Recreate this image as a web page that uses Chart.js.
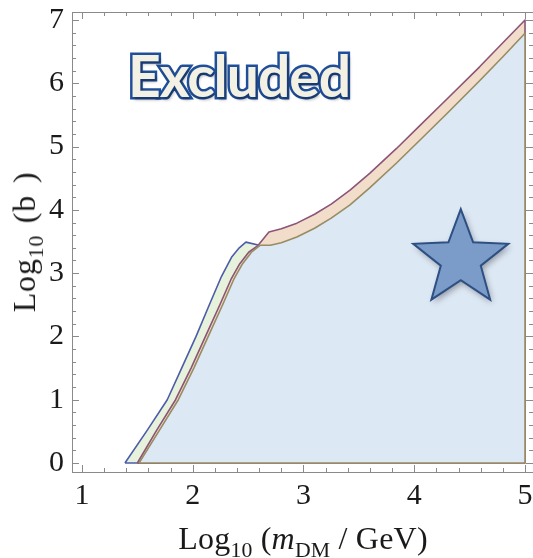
<!DOCTYPE html>
<html>
<head>
<meta charset="utf-8">
<script src="https://cdn.jsdelivr.net/npm/chart.js@4"></script>
<style>
  html, body { margin: 0; padding: 0; background: #fff; }
  #wrap { position: relative; width: 533px; height: 558px; overflow: hidden; }
  #chart { position: absolute; left: 0; top: 0; }

  /* axis titles (HTML so the subscripts are real text) */
  .axis-title {
    position: absolute;
    font-family: "Liberation Serif", "DejaVu Serif", serif;
    font-size: 32px;
    letter-spacing: 0.8px;
    color: #1a1a1a;
    white-space: nowrap;
    line-height: 1;
  }
  .axis-title sub { font-size: 0.68em; vertical-align: -0.35em; line-height: 0; }
  #xtitle { left: 303px; top: 538px; transform: translate(-50%, -50%); letter-spacing: 0.2px; }
  #ytitle { left: 24px; top: 242px; transform: translate(-50%, -50%) rotate(-90deg); word-spacing: 3px; }

  /* "Excluded" word-art label */
  #excluded {
    position: absolute;
    left: 239px; top: 75px;
    transform: translate(-50%, -50%);
    font-family: Lato, "Open Sans", sans-serif;
    font-weight: bold;
    font-size: 57px;
    letter-spacing: -1px;
    line-height: 1;
    color: #f3f0e4;
    -webkit-text-stroke: 5px #1f4f9a;
    paint-order: stroke fill;
    text-shadow: 2px 3px 3px rgba(0, 0, 0, 0.3);
    white-space: nowrap;
  }
</style>
</head>
<body>
<div id="wrap">
  <canvas id="chart" width="533" height="558"></canvas>
  <div id="excluded">Excluded</div>
  <div class="axis-title" id="xtitle">Log<sub>10</sub> (<i>m</i><sub>DM</sub> / GeV)</div>
  <div class="axis-title" id="ytitle">Log<sub>10</sub> (b )</div>
</div>

<script>
/* ── axis ranges & ticks ───────────────────────────────── */
const X_MIN = 0.91, X_MAX = 5.072;
const Y_MIN = -0.142, Y_MAX = 7.126;
const X_TICKS = [1, 2, 3, 4, 5];
const Y_TICKS = [0, 1, 2, 3, 4, 5, 6, 7];
const MINOR_STEP = 0.2;

/* ── regions (log10 mDM, log10 b) ──────────────────────── */
// light-blue allowed region, olive border
const BLUE_X = [1.515, 1.70, 1.87, 2.01, 2.14, 2.27, 2.37, 2.45, 2.53, 2.607, 2.70, 2.80, 2.94, 3.10, 3.25, 3.42, 3.60, 3.84, 4.05, 4.30, 4.59, 4.80, 5.0, 5.0, 1.515];
const BLUE_Y = [0, 0.52, 1.0, 1.5, 2.0, 2.5, 2.9, 3.15, 3.33, 3.44, 3.44, 3.48, 3.57, 3.71, 3.87, 4.08, 4.35, 4.74, 5.10, 5.53, 6.04, 6.42, 6.79, 0, 0];

// pink band on top of it, purple border
const PINK_X = [1.50, 1.675, 1.845, 1.985, 2.115, 2.245, 2.345, 2.425, 2.505, 2.585, 2.688, 2.80, 2.94, 3.10, 3.25, 3.42, 3.60, 3.84, 4.05, 4.30, 4.59, 4.80, 5.0, 5.0, 1.50];
const PINK_Y = [0, 0.52, 1.0, 1.5, 2.0, 2.5, 2.9, 3.15, 3.33, 3.43, 3.65, 3.70, 3.79, 3.93, 4.09, 4.31, 4.58, 4.97, 5.33, 5.76, 6.26, 6.64, 7.0, 0, 0];

// green sliver on the low-mass side, blue border
const GREEN_X = [1.388, 1.59, 1.77, 1.90, 2.03, 2.15, 2.26, 2.35, 2.42, 2.48, 2.60, 2.70, 1.70, 1.388];
const GREEN_Y = [0, 0.52, 1.0, 1.5, 2.0, 2.5, 2.95, 3.25, 3.40, 3.49, 3.44, 3.0, 0, 0];

// benchmark point
const STAR_X = [4.42];
const STAR_Y = [3.22];

/* ── colours ───────────────────────────────────────────── */
const BLUE_FILL   = '#dde8f5';
const BLUE_LINE   = '#978c62';
const PINK_FILL   = '#f1ddca';
const PINK_LINE   = '#8c5478';
const GREEN_FILL  = '#e7f2dc';
const GREEN_LINE  = '#4c5ca8';
const FRAME_COLOR = '#8a8a8a';
const TICK_FONT   = { family: '"Liberation Serif", "DejaVu Serif", serif', size: 30 };

const pts = (xs, ys) => xs.map((x, i) => ({ x, y: ys[i] }));

function region(xs, ys, fill, line, order) {
  return {
    data: pts(xs, ys),
    showLine: true,
    fill: 'shape',
    backgroundColor: fill,
    borderColor: line,
    borderWidth: 1.6,
    borderJoinStyle: 'round',
    pointRadius: 0,
    tension: 0,
    order: order,
  };
}

/* frame with inward ticks on every side */
const frameTicks = {
  id: 'frameTicks',
  afterDatasetsDraw(chart) {
    const { ctx, chartArea: a, scales: { x, y } } = chart;
    ctx.save();
    ctx.strokeStyle = FRAME_COLOR;
    ctx.lineWidth = 1;
    ctx.strokeRect(a.left + 0.5, a.top + 0.5, a.right - a.left, a.bottom - a.top);

    ctx.beginPath();
    for (let v = Math.ceil(X_MIN / MINOR_STEP) * MINOR_STEP; v <= X_MAX; v += MINOR_STEP) {
      const major = Math.abs(v - Math.round(v)) < 1e-6;
      const len = major ? 7 : 4;
      const px = Math.round(x.getPixelForValue(v)) + 0.5;
      ctx.moveTo(px, a.bottom); ctx.lineTo(px, a.bottom - len);
      ctx.moveTo(px, a.top);    ctx.lineTo(px, a.top + len);
    }
    for (let v = Math.ceil(Y_MIN / MINOR_STEP) * MINOR_STEP; v <= Y_MAX; v += MINOR_STEP) {
      const major = Math.abs(v - Math.round(v)) < 1e-6;
      const len = major ? 7 : 4;
      const py = Math.round(y.getPixelForValue(v)) + 0.5;
      ctx.moveTo(a.left, py);  ctx.lineTo(a.left + len, py);
      ctx.moveTo(a.right, py); ctx.lineTo(a.right - len, py);
    }
    ctx.stroke();
    ctx.restore();
  }
};

/* five-pointed star marking the benchmark */
const starMark = {
  id: 'starMark',
  afterDatasetsDraw(chart) {
    const { ctx, scales: { x, y } } = chart;
    const R = 50, r = 21;
    STAR_X.forEach((sx, k) => {
      const cx = x.getPixelForValue(sx), cy = y.getPixelForValue(STAR_Y[k]);
      ctx.save();
      ctx.beginPath();
      for (let i = 0; i < 10; i++) {
        const rad = i % 2 ? r : R;
        const ang = -Math.PI / 2 + i * Math.PI / 5;
        const px = cx + rad * Math.cos(ang), py = cy + rad * Math.sin(ang);
        i ? ctx.lineTo(px, py) : ctx.moveTo(px, py);
      }
      ctx.closePath();
      ctx.shadowColor = 'rgba(0,0,0,0.35)';
      ctx.shadowBlur = 6;
      ctx.shadowOffsetX = 2;
      ctx.shadowOffsetY = 3;
      ctx.fillStyle = '#7b9bc8';
      ctx.fill();
      ctx.shadowColor = 'transparent';
      ctx.lineJoin = 'miter';
      ctx.lineWidth = 2;
      ctx.strokeStyle = '#2d4f82';
      ctx.stroke();
      ctx.restore();
    });
  }
};

new Chart(document.getElementById('chart'), {
  type: 'scatter',
  data: {
    datasets: [
      region(BLUE_X,  BLUE_Y,  BLUE_FILL,  BLUE_LINE,  1),
      region(PINK_X,  PINK_Y,  PINK_FILL,  PINK_LINE,  2),
      region(GREEN_X, GREEN_Y, GREEN_FILL, GREEN_LINE, 3),
    ]
  },
  options: {
    responsive: false,
    animation: false,
    layout: { padding: { top: 12, right: 0, bottom: 0, left: 0 } },
    plugins: { legend: { display: false }, tooltip: { enabled: false } },
    scales: {
      x: {
        type: 'linear',
        min: X_MIN, max: X_MAX,
        grid: { display: false, drawTicks: false },
        border: { display: false },
        ticks: { color: '#1a1a1a', font: TICK_FONT, padding: 6, maxRotation: 0 },
        afterBuildTicks: s => { s.ticks = X_TICKS.map(v => ({ value: v })); },
        afterFit: s => { s.height = 86; s.paddingLeft = 0; s.paddingRight = 0; },
      },
      y: {
        type: 'linear',
        min: Y_MIN, max: Y_MAX,
        grid: { display: false, drawTicks: false },
        border: { display: false },
        ticks: { color: '#1a1a1a', font: TICK_FONT, padding: 8 },
        afterBuildTicks: s => { s.ticks = Y_TICKS.map(v => ({ value: v })); },
        afterFit: s => { s.width = 72; s.paddingTop = 0; s.paddingBottom = 0; },
      }
    }
  },
  plugins: [frameTicks, starMark]
});
</script>
</body>
</html>
